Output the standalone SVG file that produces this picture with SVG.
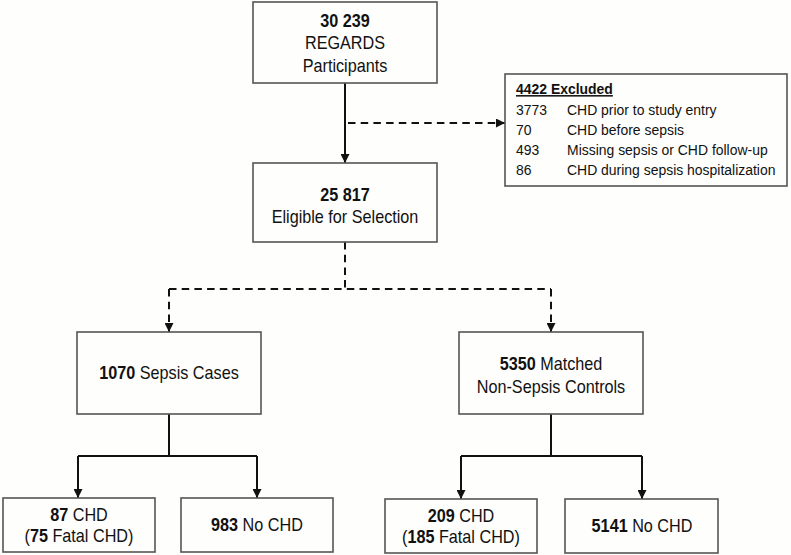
<svg xmlns="http://www.w3.org/2000/svg" width="791" height="555" viewBox="0 0 791 555">
<style>
.bg{fill:#fefefc}
.box{fill:#fefefc;stroke:#555;stroke-width:1.6}
.t{font-family:"Liberation Sans",Arial,sans-serif;font-size:18px;fill:#111;text-anchor:middle}
.s{font-family:"Liberation Sans",Arial,sans-serif;font-size:15.5px;fill:#111}
.b{font-weight:bold}
.solid{fill:none;stroke:#111;stroke-width:2}
.dash{fill:none;stroke:#111;stroke-width:2;stroke-dasharray:7.5 5.2}
</style>
<defs>
<marker id="ah" viewBox="0 0 10 10" refX="10" refY="5" markerWidth="4.5" markerHeight="4.5" orient="auto" markerUnits="strokeWidth">
<path d="M0,0 L10,5 L0,10 z" fill="#111"/>
</marker>
</defs>
<rect class="bg" x="0" y="0" width="791" height="555"/>
<g id="connectors">
<path class="solid" d="M345,83 V163" marker-end="url(#ah)"/>
<path class="dash" d="M348,123 H505" marker-end="url(#ah)"/>
<path class="dash" d="M345,242 V289 M169,289 H551"/>
<path class="dash" d="M169,289 V332" marker-end="url(#ah)"/>
<path class="dash" d="M551,289 V332" marker-end="url(#ah)"/>
<path class="solid" d="M169,414 V456 M78,456 H257"/>
<path class="solid" d="M78,456 V498" marker-end="url(#ah)"/>
<path class="solid" d="M257,456 V498" marker-end="url(#ah)"/>
<path class="solid" d="M551,414 V456 M461,456 H642"/>
<path class="solid" d="M461,456 V499" marker-end="url(#ah)"/>
<path class="solid" d="M642,456 V499" marker-end="url(#ah)"/>
</g>
<g id="participants">
<rect class="box" x="253" y="2" width="184" height="81"/>
<g transform="translate(345,0) scale(0.9,1)">
<text class="t b" x="0" y="27">30 239</text>
<text class="t" x="0" y="49.5">REGARDS</text>
<text class="t" x="0" y="72">Participants</text>
</g>
</g>
<g id="eligible">
<rect class="box" x="253" y="163" width="184" height="79"/>
<g transform="translate(345,0) scale(0.9,1)">
<text class="t b" x="0" y="201.5">25 817</text>
<text class="t" x="0" y="223.5">Eligible for Selection</text>
</g>
</g>
<g id="excluded">
<rect class="box" x="505" y="74" width="282" height="112"/>
<g transform="translate(516,0) scale(0.9,1)">
<text class="s b" x="0" y="94" text-decoration="underline">4422 Excluded</text>
<text class="s" x="0" y="115.5">3773</text><text class="s" x="56.7" y="115.5">CHD prior to study entry</text>
<text class="s" x="0" y="135.5">70</text><text class="s" x="56.7" y="135.5">CHD before sepsis</text>
<text class="s" x="0" y="155.5">493</text><text class="s" x="56.7" y="155.5">Missing sepsis or CHD follow-up</text>
<text class="s" x="0" y="175.5">86</text><text class="s" x="56.7" y="175.5">CHD during sepsis hospitalization</text>
</g>
</g>
<g id="sepsis">
<rect class="box" x="77" y="332" width="184" height="82"/>
<g transform="translate(169,0) scale(0.9,1)">
<text class="t" x="0" y="379.5"><tspan class="b">1070</tspan> Sepsis Cases</text>
</g>
</g>
<g id="controls">
<rect class="box" x="459" y="332" width="184" height="82"/>
<g transform="translate(551,0) scale(0.9,1)">
<text class="t" x="0" y="370.5"><tspan class="b">5350</tspan> Matched</text>
<text class="t" x="0" y="393">Non-Sepsis Controls</text>
</g>
</g>
<g id="sepsis-chd">
<rect class="box" x="3" y="498" width="152" height="54"/>
<g transform="translate(79,0) scale(0.9,1)">
<text class="t" x="0" y="521.5"><tspan class="b">87</tspan> CHD</text>
<text class="t" x="0" y="542.5">(<tspan class="b">75</tspan> Fatal CHD)</text>
</g>
</g>
<g id="sepsis-nochd">
<rect class="box" x="181" y="498" width="152" height="54"/>
<g transform="translate(257,0) scale(0.9,1)">
<text class="t" x="0" y="531.5"><tspan class="b">983</tspan> No CHD</text>
</g>
</g>
<g id="control-chd">
<rect class="box" x="385" y="499" width="152" height="54"/>
<g transform="translate(461,0) scale(0.9,1)">
<text class="t" x="0" y="522.5"><tspan class="b">209</tspan> CHD</text>
<text class="t" x="0" y="543.5">(<tspan class="b">185</tspan> Fatal CHD)</text>
</g>
</g>
<g id="control-nochd">
<rect class="box" x="565" y="499" width="153" height="54"/>
<g transform="translate(642,0) scale(0.9,1)">
<text class="t" x="0" y="532.5"><tspan class="b">5141</tspan> No CHD</text>
</g>
</g>
</svg>
